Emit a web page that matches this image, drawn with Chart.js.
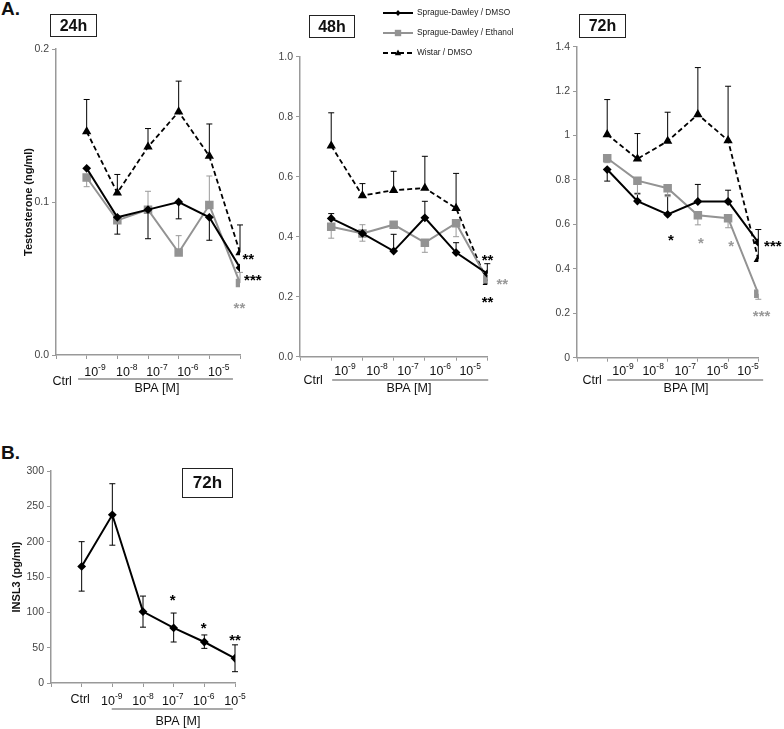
<!DOCTYPE html>
<html lang="en">
<head>
<meta charset="UTF-8">
<title>Testosterone / INSL3 vs BPA</title>
<script src="https://cdn.jsdelivr.net/npm/chart.js@4"></script>
<style>
  body { margin: 0; background: #fff; font-family: "Liberation Sans", Arial, sans-serif; color: #111; }
  .wrap { position: relative; width: 784px; height: 729px; overflow: hidden; }
  canvas { position: absolute; }
  .tag { position: absolute; font-weight: bold; font-size: 19px; line-height: 1; }
  .box { position: absolute; border: 1px solid #222; box-sizing: border-box; font-weight: bold; text-align: center; }
</style>
</head>
<body>
<div class="wrap">
  <div class="tag" style="left:1px; top:-1px;">A.</div>
  <div class="tag" style="left:1px; top:443px;">B.</div>

  <canvas id="c24" width="270" height="400" style="left:0; top:0;"></canvas>
  <canvas id="c48" width="262" height="400" style="left:262px; top:0;"></canvas>
  <canvas id="c72" width="260" height="400" style="left:524px; top:0;"></canvas>
  <canvas id="cB" width="270" height="289" style="left:0; top:440px;"></canvas>

  <div class="box" style="left:50px; top:14px; width:47px; height:23px; line-height:21px; font-size:16px;">24h</div>
  <div class="box" style="left:309px; top:15px; width:46px; height:23px; line-height:21px; font-size:16px;">48h</div>
  <div class="box" style="left:579px; top:14px; width:47px; height:24px; line-height:22px; font-size:16px;">72h</div>
  <div class="box" style="left:182px; top:468px; width:51px; height:30px; line-height:28px; font-size:17px;">72h</div>
</div>

<script>
  // categories: Ctrl + BPA concentrations (exponents of 10)
  var doseExp = ['-9', '-8', '-7', '-6', '-5'];

  // testosterone (ng/ml), 24h
  var sd24 = [0.122, 0.090, 0.095, 0.100, 0.090, 0.057];
  var sd24Hi = [null, null, null, null, null, null];
  var sd24Lo = [null, 0.079, 0.076, 0.089, 0.075, null];
  var eth24 = [0.116, 0.088, 0.095, 0.067, 0.098, 0.047];
  var eth24Hi = [null, null, 0.107, 0.078, 0.117, 0.054];
  var eth24Lo = [0.110, null, null, null, null, null];
  var wis24 = [0.146, 0.106, 0.136, 0.159, 0.130, 0.067];
  var wis24Hi = [0.167, 0.118, 0.148, 0.179, 0.151, 0.085];

  // 48h
  var sd48 = [0.461, 0.411, 0.352, 0.463, 0.347, 0.277];
  var sd48Hi = [0.477, null, 0.408, 0.518, 0.380, 0.310];
  var sd48Lo = [null, null, null, null, null, null];
  var eth48 = [0.433, 0.411, 0.440, 0.380, 0.445, 0.258];
  var eth48Hi = [null, 0.440, null, null, null, null];
  var eth48Lo = [0.395, 0.385, null, 0.348, 0.400, null];
  var wis48 = [0.703, 0.537, 0.555, 0.562, 0.495, 0.248];
  var wis48Hi = [0.813, 0.577, 0.618, 0.668, 0.611, null];

  // 72h
  var sd72 = [0.847, 0.705, 0.645, 0.703, 0.703, 0.519];
  var sd72Hi = [null, 0.740, 0.732, 0.780, 0.754, null];
  var sd72Lo = [0.795, null, null, null, null, null];
  var eth72 = [0.898, 0.797, 0.763, 0.641, 0.628, 0.288];
  var eth72Hi = [null, null, null, null, null, null];
  var eth72Lo = [0.878, 0.735, 0.725, 0.598, 0.585, 0.263];
  var wis72 = [1.005, 0.895, 0.975, 1.095, 0.978, 0.443];
  var wis72Hi = [1.162, 1.009, 1.105, 1.306, 1.222, 0.577];

  // INSL3 (pg/ml), 72h
  var insl = [165, 238, 101, 78, 58, 35];
  var inslHi = [200, 282, 123, 99, 68, 54];
  var inslLo = [130, 195, 79, 58, 49, 16];

  var FONT = '"Liberation Sans", Arial, sans-serif';
  var GRAY = '#939393';
  Chart.defaults.font.family = FONT;
  Chart.defaults.color = '#444';

  function pts(vals) {
    return vals.map(function (v, i) { return { x: i + 1, y: v }; });
  }

  function sdSet(vals, hi, lo) {
    return { label: 'Sprague-Dawley / DMSO', data: pts(vals), borderColor: '#000', backgroundColor: '#000',
      borderWidth: 2, pointStyle: 'rectRot', pointRadius: 3, errHi: hi, errLo: lo, errColor: '#000' };
  }
  function ethSet(vals, hi, lo) {
    return { label: 'Sprague-Dawley / Ethanol', data: pts(vals), borderColor: GRAY, backgroundColor: GRAY,
      borderWidth: 2, pointStyle: 'rect', pointRadius: 4.6, errHi: hi, errLo: lo, errColor: '#9a9a9a' };
  }
  function wisSet(vals, hi) {
    return { label: 'Wistar / DMSO', data: pts(vals), borderColor: '#000', backgroundColor: '#000',
      borderWidth: 1.8, borderDash: [5, 3], pointStyle: 'triangle', pointRadius: 3.6, errHi: hi, errLo: null, errColor: '#000' };
  }

  var errorBars = {
    id: 'errorBars',
    beforeDatasetsDraw: function (chart) {
      var ctx = chart.ctx, xs = chart.scales.x, ys = chart.scales.y;
      chart.data.datasets.forEach(function (ds) {
        ctx.save();
        ctx.strokeStyle = ds.errColor;
        ctx.lineWidth = 1;
        ds.data.forEach(function (p, i) {
          var px = xs.getPixelForValue(p.x), py = ys.getPixelForValue(p.y);
          [ds.errHi, ds.errLo].forEach(function (arr) {
            if (!arr || arr[i] == null) return;
            var ey = ys.getPixelForValue(arr[i]);
            ctx.beginPath();
            ctx.moveTo(px, py); ctx.lineTo(px, ey);
            ctx.moveTo(px - 3, ey); ctx.lineTo(px + 3, ey);
            ctx.stroke();
          });
        });
        ctx.restore();
      });
    }
  };

  function drawPow(ctx, cx, cy, exp) {
    ctx.font = '12.5px ' + FONT;
    var w1 = ctx.measureText('10').width;
    ctx.font = '8.5px ' + FONT;
    var w2 = ctx.measureText(exp).width;
    var x0 = cx - (w1 + w2) / 2;
    ctx.textAlign = 'left';
    ctx.textBaseline = 'alphabetic';
    ctx.font = '12.5px ' + FONT;
    ctx.fillText('10', x0, cy + 4.5);
    ctx.font = '8.5px ' + FONT;
    ctx.fillText(exp, x0 + w1, cy - 1.2);
  }

  function marker(ctx, style, x, y, color) {
    ctx.fillStyle = color;
    ctx.beginPath();
    if (style === 'rectRot') {
      ctx.moveTo(x, y - 3); ctx.lineTo(x + 2.6, y); ctx.lineTo(x, y + 3); ctx.lineTo(x - 2.6, y);
    } else if (style === 'rect') {
      ctx.rect(x - 3.2, y - 3.2, 6.4, 6.4);
    } else {
      ctx.moveTo(x, y - 3.5); ctx.lineTo(x + 3.2, y + 2.3); ctx.lineTo(x - 3.2, y + 2.3);
    }
    ctx.closePath();
    ctx.fill();
  }

  function panelText(o) {
    return {
      id: 'panelText',
      afterDraw: function (chart) {
        var ctx = chart.ctx, xs = chart.scales.x, ys = chart.scales.y, b = chart.chartArea.bottom;
        ctx.save();
        ctx.fillStyle = '#111';
        o.labPos.forEach(function (v, i) {
          drawPow(ctx, xs.getPixelForValue(v), b + o.dy[0], doseExp[i]);
        });
        ctx.font = '12.5px ' + FONT;
        ctx.textAlign = 'center';
        ctx.textBaseline = 'middle';
        ctx.fillText('Ctrl', xs.getPixelForValue(o.ctrlPos), b + o.dy[1]);
        ctx.fillText('BPA [M]', xs.getPixelForValue(o.bpaPos), b + o.dy[3]);
        ctx.strokeStyle = '#555';
        ctx.lineWidth = 1.2;
        ctx.beginPath();
        ctx.moveTo(xs.getPixelForValue(o.line[0]), b + o.dy[2]);
        ctx.lineTo(xs.getPixelForValue(o.line[1]), b + o.dy[2]);
        ctx.stroke();

        // significance stars
        ctx.font = 'bold 15px ' + FONT;
        ctx.textBaseline = 'alphabetic';
        o.stars.forEach(function (s) {
          ctx.fillStyle = s[3];
          ctx.fillText(s[2], xs.getPixelForValue(s[0]), ys.getPixelForValue(s[1]) + 8);
        });

        if (o.yTitle) {
          ctx.save();
          ctx.translate(o.yTitle[1], o.yTitle[2]);
          ctx.rotate(-Math.PI / 2);
          ctx.fillStyle = '#111';
          ctx.font = 'bold 11px ' + FONT;
          ctx.textBaseline = 'middle';
          ctx.fillText(o.yTitle[0], 0, 0);
          ctx.restore();
        }

        if (o.legend) {
          chart.data.datasets.forEach(function (ds, i) {
            var ly = 13 + i * 20;
            ctx.strokeStyle = ds.borderColor;
            ctx.lineWidth = ds.borderWidth;
            ctx.setLineDash(ds.borderDash || []);
            ctx.beginPath();
            ctx.moveTo(121, ly); ctx.lineTo(151, ly);
            ctx.stroke();
            ctx.setLineDash([]);
            marker(ctx, ds.pointStyle, 136, ly, ds.borderColor);
            ctx.fillStyle = '#222';
            ctx.font = '8.3px ' + FONT;
            ctx.textAlign = 'left';
            ctx.textBaseline = 'middle';
            ctx.fillText(ds.label, 155, ly);
          });
        }
        ctx.restore();
      }
    };
  }

  function makePanel(id, o) {
    return new Chart(document.getElementById(id), {
      type: 'line',
      data: { datasets: o.datasets },
      options: {
        responsive: false,
        animation: false,
        layout: { padding: { top: o.pad[0], right: o.pad[1], bottom: 0, left: 0 } },
        plugins: { legend: { display: false }, tooltip: { enabled: false } },
        scales: {
          x: {
            type: 'linear', min: 0, max: 6,
            ticks: { stepSize: 1, display: false },
            grid: { drawOnChartArea: false, tickLength: 4, color: '#999' },
            border: { color: '#999', width: 1.5 },
            afterFit: function (s) { s.height = o.xh; }
          },
          y: {
            min: 0, max: o.ymax,
            ticks: { stepSize: o.ystep, padding: 3, color: '#444', font: { size: 10.5 }, callback: o.fmt },
            grid: { drawOnChartArea: false, tickLength: 4, color: '#999' },
            border: { color: '#999', width: 1.5 },
            afterFit: function (s) { s.width = o.yw; }
          }
        }
      },
      plugins: [errorBars, panelText(o)]
    });
  }

  function fix1(v) { return v.toFixed(1); }
  function plain(v) { return String(Math.round(v * 10) / 10); }

  makePanel('c24', {
    datasets: [sdSet(sd24, sd24Hi, sd24Lo), ethSet(eth24, eth24Hi, eth24Lo), wisSet(wis24, wis24Hi)],
    pad: [49, 30], xh: 45, yw: 56, ymax: 0.2, ystep: 0.1, fmt: fix1,
    labPos: [1.27, 2.31, 3.29, 4.3, 5.31], ctrlPos: 0.2, line: [0.72, 5.77], bpaPos: 3.29,
    dy: [16, 27, 24, 34],
    stars: [[6.27, 0.065, '**', '#000'], [6.42, 0.051, '***', '#000'], [5.98, 0.033, '**', '#999']],
    yTitle: ['Testosterone (ng/ml)', 28.5, 202]
  });

  makePanel('c48', {
    datasets: [sdSet(sd48, sd48Hi, sd48Lo), ethSet(eth48, eth48Hi, eth48Lo), wisSet(wis48, wis48Hi)],
    pad: [56.7, 36.7], xh: 43.3, yw: 38, ymax: 1.0, ystep: 0.2, fmt: fix1,
    labPos: [1.44, 2.47, 3.46, 4.49, 5.45], ctrlPos: 0.42, line: [1.03, 6.03], bpaPos: 3.49,
    dy: [13.5, 23.5, 23.3, 31.5],
    stars: [[6.01, 0.333, '**', '#000'], [6.48, 0.252, '**', '#999'], [6.01, 0.192, '**', '#000']],
    legend: true
  });

  makePanel('c72', {
    datasets: [sdSet(sd72, sd72Hi, sd72Lo), ethSet(eth72, eth72Hi, eth72Lo), wisSet(wis72, wis72Hi)],
    pad: [46.7, 25.7], xh: 42.3, yw: 53, ymax: 1.4, ystep: 0.2, fmt: plain,
    labPos: [1.52, 2.52, 3.58, 4.64, 5.66], ctrlPos: 0.5, line: [1.0, 6.16], bpaPos: 3.61,
    dy: [12.5, 22.5, 22.3, 30.5],
    stars: [[3.11, 0.545, '*', '#000'], [4.1, 0.53, '*', '#999'], [5.1, 0.515, '*', '#999'],
            [6.48, 0.517, '***', '#000'], [6.11, 0.2, '***', '#999']]
  });

  makePanel('cB', {
    datasets: [sdSet(insl, inslHi, inslLo)],
    pad: [31, 35], xh: 46, yw: 51, ymax: 300, ystep: 50, fmt: plain,
    labPos: [1.98, 3.0, 3.97, 4.98, 6.0], ctrlPos: 0.95, line: [1.98, 5.93], bpaPos: 4.14,
    dy: [17, 17, 26, 39],
    stars: [[3.97, 122, '*', '#000'], [4.98, 82, '*', '#000'], [6.0, 65, '**', '#000']],
    yTitle: ['INSL3 (pg/ml)', 17, 137]
  });
</script>
</body>
</html>
